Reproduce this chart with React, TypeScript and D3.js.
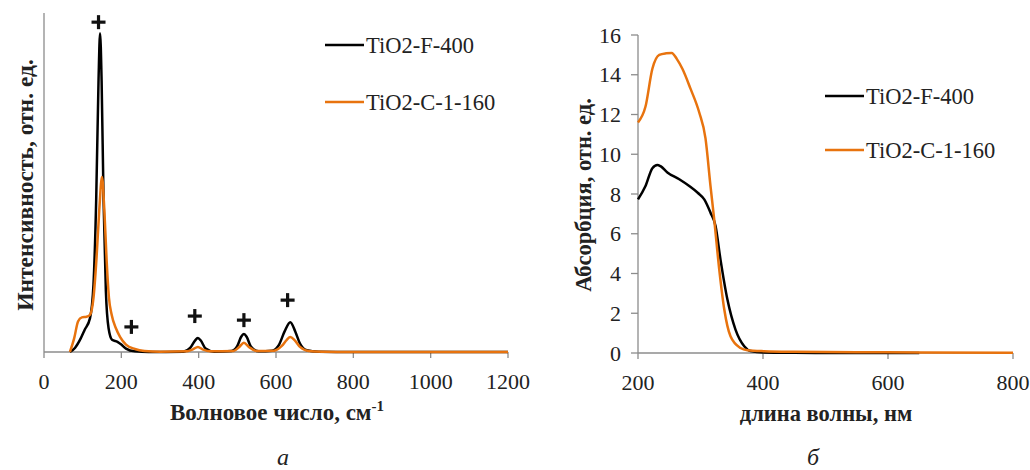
import React from "react";
import * as d3 from "d3";

// Raman spectra (wavenumber, relative intensity)
const ramanF400: [number, number][] = [
  [67, 0], [80, 0.012], [95, 0.04], [105, 0.065], [119, 0.1], [128, 0.2], [135, 0.45],
  [141, 0.8], [145, 0.94], [149, 0.8], [154, 0.45], [160, 0.18], [167, 0.07], [176, 0.036],
  [190, 0.03], [200, 0.022], [212, 0.01], [235, 0.002], [270, 0], [360, 0.001], [378, 0.012],
  [390, 0.033], [398, 0.041], [406, 0.033], [418, 0.01], [440, 0.001], [485, 0.003],
  [500, 0.018], [510, 0.045], [517, 0.053], [524, 0.045], [535, 0.016], [555, 0.002],
  [590, 0.004], [608, 0.022], [622, 0.06], [637, 0.088], [650, 0.06], [662, 0.025],
  [680, 0.005], [710, 0.001], [800, 0], [1000, 0], [1200, 0],
];
const ramanC160: [number, number][] = [
  [67, 0], [78, 0.04], [88, 0.09], [98, 0.102], [110, 0.104], [119, 0.11], [128, 0.16],
  [136, 0.28], [143, 0.42], [150, 0.516], [156, 0.42], [162, 0.27], [168, 0.16], [175, 0.11],
  [186, 0.07], [197, 0.044], [212, 0.022], [235, 0.009], [260, 0.003], [300, 0.001],
  [370, 0.002], [385, 0.008], [398, 0.015], [410, 0.008], [430, 0.002], [490, 0.003],
  [505, 0.015], [517, 0.027], [530, 0.015], [550, 0.003], [595, 0.004], [615, 0.018],
  [628, 0.036], [637, 0.044], [648, 0.035], [662, 0.015], [685, 0.003], [720, 0.001],
  [800, 0], [1000, 0], [1200, 0],
];
// "+" markers over the anatase bands
const ramanMarks: [number, number][] = [
  [141, 0.973], [226, 0.074], [390, 0.106], [517, 0.094], [630, 0.153],
];
const ramanTicks = [0, 200, 400, 600, 800, 1000, 1200];

// UV-vis absorption (wavelength nm, absorbance)
const uvF400: [number, number][] = [
  [200, 7.73], [212, 8.4], [223, 9.3], [231, 9.46], [236, 9.4], [247, 9.08], [266, 8.74],
  [282, 8.4], [296, 8.05], [306, 7.73], [316, 7.06], [324, 6.4], [332, 4.7], [343, 2.7],
  [356, 1.18], [370, 0.34], [380, 0.1], [402, 0.03], [450, 0.01], [500, 0], [650, 0],
];
const uvC160: [number, number][] = [
  [200, 11.6], [212, 12.4], [223, 14.3], [234, 15.0], [245, 15.08], [254, 15.1],
  [262, 14.8], [271, 14.3], [284, 13.3], [298, 12.1], [308, 10.8], [316, 8.4], [322, 6.7],
  [330, 4.2], [338, 2.2], [348, 0.84], [364, 0.25], [375, 0.14], [402, 0.09], [450, 0.06],
  [550, 0.04], [650, 0.03], [800, 0.01],
];
const uvXTicks = [200, 400, 600, 800];
const uvYTicks = [0, 2, 4, 6, 8, 10, 12, 14, 16];

const seriesNames = ["TiO2-F-400", "TiO2-C-1-160"];
const seriesColors = ["#000000", "#E8730E"];

const FONT = "'Liberation Serif', 'Times New Roman', serif";
const AXIS = "#8c8c8c";
const INK = "#222";

export default function App() {
  // left panel scales
  const xa = d3.scaleLinear().domain([0, 1200]).range([44, 508]);
  const ya = d3.scaleLinear().domain([0, 1]).range([352, 13]);
  const lineA = d3
    .line<[number, number]>()
    .x((d) => xa(d[0]))
    .y((d) => ya(d[1]))
    .curve(d3.curveMonotoneX);

  // right panel scales
  const xb = d3.scaleLinear().domain([200, 800]).range([638, 1013]);
  const yb = d3.scaleLinear().domain([0, 16]).range([353, 35]);
  const lineB = d3
    .line<[number, number]>()
    .x((d) => xb(d[0]))
    .y((d) => yb(d[1]))
    .curve(d3.curveMonotoneX);

  const legend = (x: number, y: number, gap: number) =>
    seriesNames.map((name, i) => (
      <g key={name} transform={`translate(${x},${y + i * gap})`}>
        <line x1={0} x2={39} y1={0} y2={0} stroke={seriesColors[i]} strokeWidth={2.5} />
        <text x={41} y={8} fontSize={22.5} fill={INK}>
          {name}
        </text>
      </g>
    ));

  return (
    <svg
      width={1030}
      height={470}
      style={{ position: "absolute", left: 0, top: 0, background: "#fff" }}
      fontFamily={FONT}
    >
      {/* ---- panel a ---- */}
      <line x1={xa(0)} x2={xa(0)} y1={ya(1)} y2={ya(0)} stroke={AXIS} strokeWidth={1.3} />
      <line x1={xa(0)} x2={xa(1200)} y1={ya(0)} y2={ya(0)} stroke={AXIS} strokeWidth={1.3} />
      {ramanTicks.map((t) => (
        <g key={t}>
          <line x1={xa(t)} x2={xa(t)} y1={ya(0)} y2={ya(0) + 6} stroke={AXIS} strokeWidth={1.3} />
          <text x={xa(t)} y={389} textAnchor="middle" fontSize={22} fill={INK}>
            {t}
          </text>
        </g>
      ))}
      <path d={lineA(ramanF400) ?? ""} fill="none" stroke={seriesColors[0]} strokeWidth={2.5} />
      <path d={lineA(ramanC160) ?? ""} fill="none" stroke={seriesColors[1]} strokeWidth={2.5} />
      {ramanMarks.map(([x, y], i) => (
        <g key={i} transform={`translate(${xa(x)},${ya(y)})`} stroke="#111" strokeWidth={3.2}>
          <line x1={-7} x2={7} y1={0} y2={0} />
          <line x1={0} x2={0} y1={-7} y2={7} />
        </g>
      ))}
      {legend(325, 45, 57)}
      <text
        transform={`translate(33,185) rotate(-90)`}
        textAnchor="middle"
        fontSize={23.5}
        fontWeight="bold"
        fill={INK}
      >
        Интенсивность, отн. ед.
      </text>
      <text x={277} y={420} textAnchor="middle" fontSize={23} fontWeight="bold" fill={INK}>
        Волновое число, см<tspan dy={-9} fontSize={15}>-1</tspan>
      </text>
      <text x={283} y={465} textAnchor="middle" fontSize={24} fontStyle="italic" fill={INK}>
        а
      </text>

      {/* ---- panel б ---- */}
      <line x1={xb(200)} x2={xb(200)} y1={yb(16)} y2={yb(0)} stroke={AXIS} strokeWidth={1.3} />
      <line x1={xb(200)} x2={xb(800)} y1={yb(0)} y2={yb(0)} stroke={AXIS} strokeWidth={1.3} />
      {uvYTicks.map((t) => (
        <g key={t}>
          <line x1={xb(200) - 7} x2={xb(200)} y1={yb(t)} y2={yb(t)} stroke={AXIS} strokeWidth={1.3} />
          <text x={621} y={yb(t) + 7.5} textAnchor="end" fontSize={22} fill={INK}>
            {t}
          </text>
        </g>
      ))}
      {uvXTicks.map((t) => (
        <g key={t}>
          <line x1={xb(t)} x2={xb(t)} y1={yb(0)} y2={yb(0) + 6} stroke={AXIS} strokeWidth={1.3} />
          <text x={xb(t)} y={390} textAnchor="middle" fontSize={22} fill={INK}>
            {t}
          </text>
        </g>
      ))}
      <path d={lineB(uvF400) ?? ""} fill="none" stroke={seriesColors[0]} strokeWidth={2.5} />
      <path d={lineB(uvC160) ?? ""} fill="none" stroke={seriesColors[1]} strokeWidth={2.5} />
      {legend(825, 96, 54)}
      <text
        transform={`translate(591,195) rotate(-90)`}
        textAnchor="middle"
        fontSize={22.5}
        fontWeight="bold"
        fill={INK}
      >
        Абсорбция, отн. ед.
      </text>
      <text x={826} y={421} textAnchor="middle" fontSize={22.5} fontWeight="bold" fill={INK}>
        длина волны, нм
      </text>
      <text x={813} y={465} textAnchor="middle" fontSize={24} fontStyle="italic" fill={INK}>
        б
      </text>
    </svg>
  );
}
